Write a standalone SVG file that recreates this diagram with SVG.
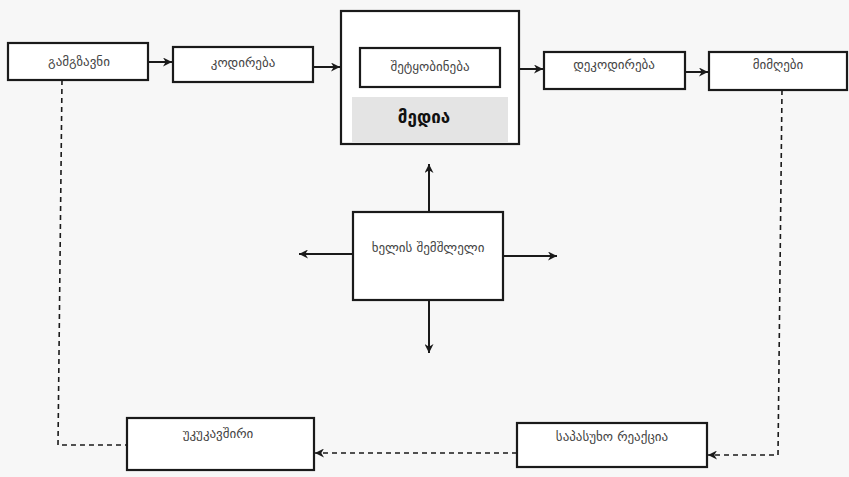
<svg xmlns="http://www.w3.org/2000/svg" width="849" height="477" viewBox="0 0 849 477">
<style>
.box{fill:#ffffff;stroke:#1a1a1a;stroke-width:2.2}
.lbl{font-family:"DejaVu Sans","Noto Sans",sans-serif;font-size:13px;fill:#444;text-anchor:middle}
.big{font-family:"DejaVu Sans","Noto Sans",sans-serif;font-size:17px;font-weight:bold;fill:#111;text-anchor:middle}
.ln{fill:none;stroke:#1a1a1a;stroke-width:2}
.dash{fill:none;stroke:#1a1a1a;stroke-width:1.6;stroke-dasharray:5 4}
</style>
<defs>
<marker id="ah" viewBox="0 0 10 10" refX="10" refY="5" markerWidth="9" markerHeight="9" markerUnits="userSpaceOnUse" orient="auto">
<path d="M0,0 L10,5 L0,10 L3,5 Z" fill="#1a1a1a"/>
</marker>
</defs>
<rect x="0" y="0" width="849" height="477" fill="#f7f7f7"/>
<g id="media">
<rect class="box" x="341" y="11" width="178" height="133"/>
<rect x="352" y="97" width="156" height="45" fill="#e4e4e4"/>
<text class="big" x="424" y="123">მედია</text>
</g>
<g id="sender">
<rect class="box" x="8" y="43" width="140" height="37"/>
<text class="lbl" x="79" y="66">გამგზავნი</text>
</g>
<g id="encoding">
<rect class="box" x="173" y="47" width="140" height="35"/>
<text class="lbl" x="243" y="67">კოდირება</text>
</g>
<g id="message">
<rect class="box" x="360" y="48" width="140" height="39"/>
<text class="lbl" x="430" y="71">შეტყობინება</text>
</g>
<g id="decoding">
<rect class="box" x="544" y="52" width="141" height="37"/>
<text class="lbl" x="614" y="69">დეკოდირება</text>
</g>
<g id="receiver">
<rect class="box" x="709" y="52" width="138" height="38"/>
<text class="lbl" x="778" y="69">მიმღები</text>
</g>
<g id="noise">
<rect class="box" x="353" y="212" width="150" height="88"/>
<text class="lbl" x="428" y="252">ხელის შემშლელი</text>
</g>
<g id="feedback">
<rect class="box" x="127" y="418" width="187" height="52"/>
<text class="lbl" x="218" y="438">უკუკავშირი</text>
</g>
<g id="response">
<rect class="box" x="517" y="423" width="190" height="44"/>
<text class="lbl" x="612" y="441">საპასუხო რეაქცია</text>
</g>
<g id="connectors">
<line class="ln" x1="148" y1="62" x2="172" y2="62" marker-end="url(#ah)"/>
<line class="ln" x1="313" y1="67" x2="340" y2="67" marker-end="url(#ah)"/>
<line class="ln" x1="519" y1="69" x2="543" y2="69" marker-end="url(#ah)"/>
<line class="ln" x1="685" y1="72" x2="708" y2="72" marker-end="url(#ah)"/>
<line class="ln" x1="429" y1="212" x2="429" y2="164" marker-end="url(#ah)"/>
<line class="ln" x1="429" y1="300" x2="429" y2="353" marker-end="url(#ah)"/>
<line class="ln" x1="353" y1="254" x2="299" y2="254" marker-end="url(#ah)"/>
<line class="ln" x1="503" y1="256" x2="557" y2="256" marker-end="url(#ah)"/>
<polyline class="dash" points="62,80 58,445 127,445"/>
<polyline class="dash" points="782,90 778,455 708,455" marker-end="url(#ah)"/>
<line class="dash" x1="517" y1="453" x2="315" y2="453" marker-end="url(#ah)"/>
</g>
</svg>
